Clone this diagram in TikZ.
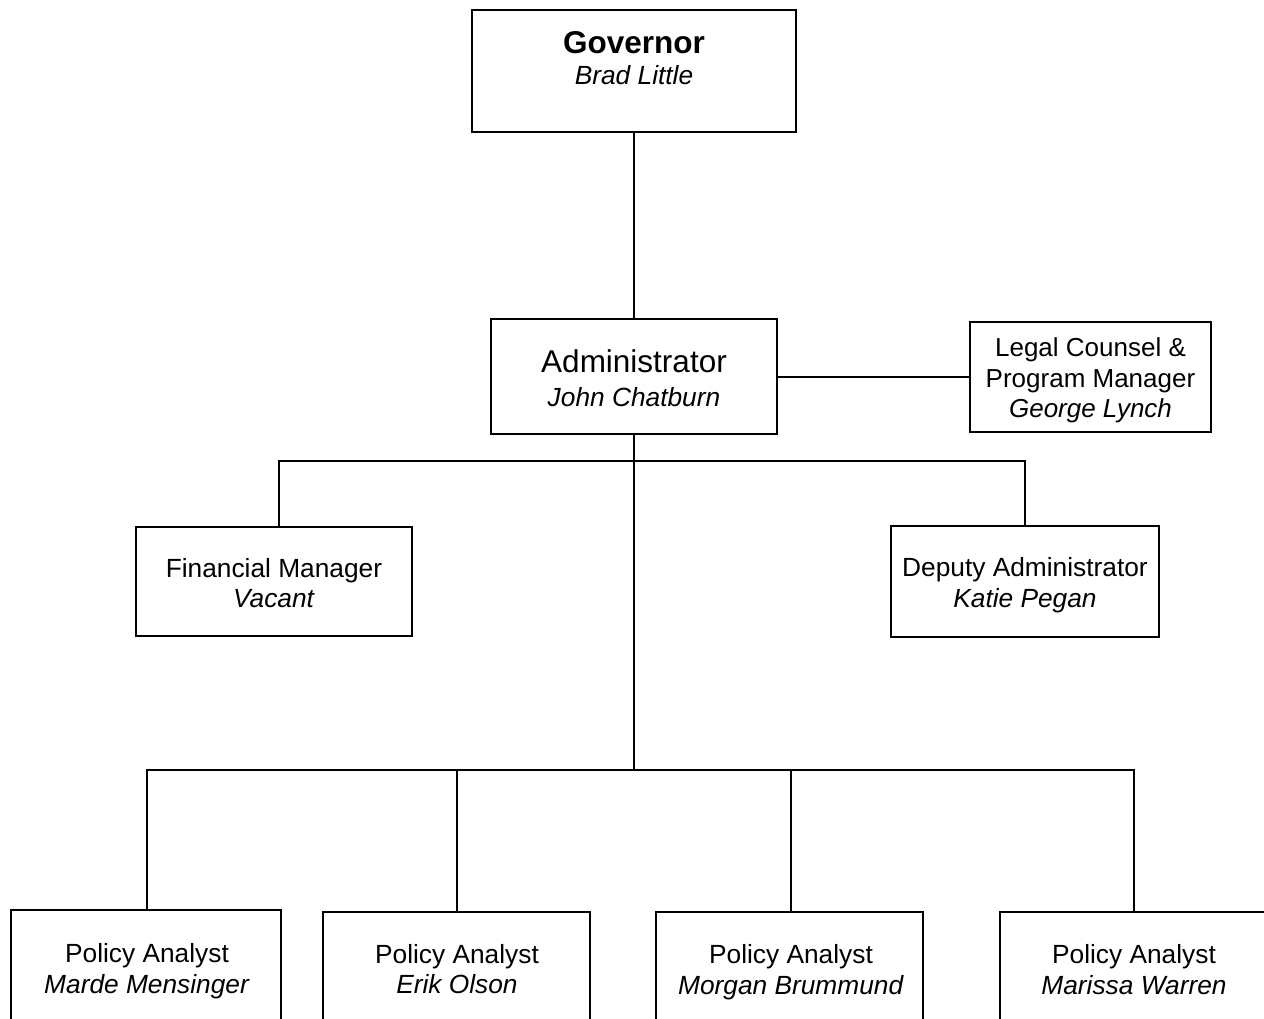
\documentclass[tikz,border=0pt]{standalone}
\usepackage{fontspec}
\setmainfont{Liberation Sans}
\begin{document}
\begin{tikzpicture}[x=1pt,y=-1pt,
  box/.style={draw,line width=1.6pt,inner sep=0pt,minimum width=#1},
  lbl/.style={align=center,inner sep=0pt,font=\fontsize{26.3}{30.5}\selectfont},
  big/.style={align=center,inner sep=0pt,font=\fontsize{31.5}{34}\selectfont},
  conn/.style={line width=1.6pt}]
\clip (0,0) rectangle (1264,1019);
\fill[white] (0,0) rectangle (1264,1019);
% boxes
\node[box=324pt,minimum height=122pt] (gov) at (634,71) {};
\node[box=286pt,minimum height=115pt] (adm) at (634,376.5) {};
\node[box=241pt,minimum height=110pt] (leg) at (1090.5,377) {};
\node[box=276pt,minimum height=109pt] (fin) at (274,581.5) {};
\node[box=268pt,minimum height=111pt] (dep) at (1025,581.5) {};
\node[box=270pt,minimum height=150pt] (pa1) at (146,985) {};
\node[box=267pt,minimum height=150pt] (pa2) at (456.5,987) {};
\node[box=267pt,minimum height=150pt] (pa3) at (789.5,987) {};
\node[box=270pt,minimum height=150pt] (pa4) at (1135,987) {};
% texts
\node[big] (tgov) at (634,58) {\textbf{Governor}\\[-3pt]{\fontsize{26.3}{30}\selectfont\itshape Brad Little}};
\node[big] (tadm) at (634,378.5) {Administrator\\{\fontsize{26.3}{30}\selectfont\itshape John Chatburn}};
\node[lbl,font=\fontsize{26}{30.5}\selectfont] (tleg) at (1090.5,380.5) {Legal Counsel \&\\Program Manager\\\textit{George Lynch}};
\node[lbl] (tfin) at (274,583) {Financial Manager\\\textit{Vacant}};
\node[lbl] (tdep) at (1025,585) {Deputy Administrator\\\textit{Katie Pegan}};
\node[lbl] (tpa1) at (147,971) {Policy Analyst\\\textit{Marde Mensinger}};
\node[lbl] (tpa2) at (457,969) {Policy Analyst\\\textit{Erik Olson}};
\node[lbl] (tpa3) at (791,972) {Policy Analyst\\\textit{Morgan Brummund}};
\node[lbl] (tpa4) at (1134,969.5) {Policy Analyst\\\textit{Marissa Warren}};
% junctions
\coordinate (j1) at (634,461);
\coordinate (j2) at (634,770);
% connectors
\draw[conn] (gov.south) -- (adm.north);
\draw[conn] (adm.east |- 0,377) -- (leg.west |- 0,377);
\draw[conn] (adm.south) -- (j2);
\draw[conn] (fin.north -| 279,0) |- (j1) -| (dep.north);
\draw[conn] (pa1.north -| 147,0) |- (j2) -| (pa4.north -| 1134,0);
\draw[conn] (pa2.north -| 457,0) -- (457,770);
\draw[conn] (pa3.north -| 791,0) -- (791,770);
\end{tikzpicture}
\end{document}
